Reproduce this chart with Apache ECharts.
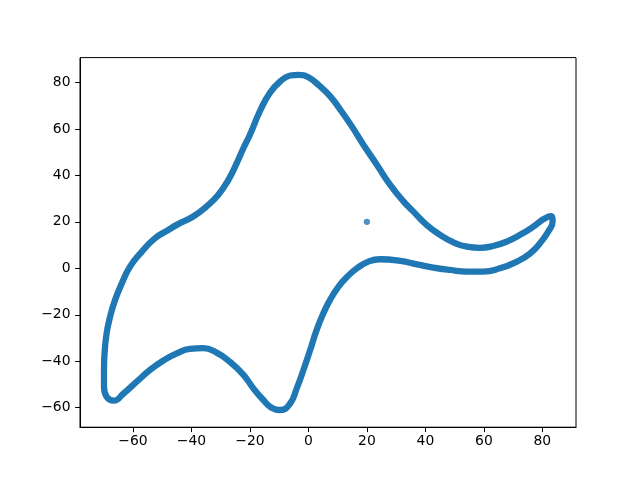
<!DOCTYPE html>
<html>
<head>
<meta charset="utf-8">
<script src="https://cdn.jsdelivr.net/npm/echarts@6/dist/echarts.min.js"></script>
<style>html,body{margin:0;padding:0;background:#fff}#c{width:640px;height:480px}</style>
</head>
<body>
<div id="c"></div>
<script>
// Curve points (data coordinates), in order around the loop
const curveX = [-69.9,-69.9,-69.7,-69.0,-67.8,-66.1,-63.8,-61.0,-57.0,-52.5,-47.9,-45.0,-39.4,-34.8,-30.8,-27.3,-24.5,-22.2,-20.0,-16.6,-13.2,-9.6,-6.2,-3.4,0.0,4.0,7.4,10.9,14.8,18.8,23.4,27.9,32.5,35.9,40.5,45.0,49.6,54.2,58.7,63.2,67.8,72.4,76.9,80.3,82.9,83.5,82.0,79.2,75.8,71.3,65.5,59.8,54.2,48.4,42.7,37.1,31.4,24.5,20.5,16.6,13.2,10.3,7.4,5.1,2.8,0.6,-1.7,-4.0,-6.2,-9.6,-12.6,-15.4,-18.8,-22.2,-26.8,-31.4,-36.0,-40.5,-45.0,-49.7,-54.2,-58.7,-63.3,-66.5,-69.0,-69.9];
const curveY = [-50.9,-43.8,-36.6,-28.0,-20.8,-13.6,-6.5,0.7,7.1,12.9,16.5,18.7,22.3,26.7,31.7,38.2,45.3,51.8,57.5,67.6,75.5,80.5,83.0,83.3,82.2,78.3,74.1,68.3,61.2,53.2,44.6,36.0,28.8,24.4,18.6,14.4,11.2,9.3,8.8,9.6,11.5,14.4,17.9,21.1,22.5,20.0,15.8,10.8,6.4,2.9,0.0,-1.4,-1.4,-0.7,0.3,1.7,3.2,3.9,2.9,0.0,-3.7,-7.9,-13.6,-19.4,-26.6,-35.2,-43.8,-51.7,-58.1,-61.0,-60.0,-56.7,-51.7,-45.9,-40.3,-36.3,-34.4,-34.7,-36.6,-39.8,-43.8,-48.8,-54.0,-57.0,-55.3,-50.9];
// Isolated point
const pointX = [20];
const pointY = [20];
// Tick values
const xTicks = [-60,-40,-20,0,20,40,60,80];
const yTicks = [-60,-40,-20,0,20,40,60,80];

const curveData = curveX.map((x, i) => [x, curveY[i]]);
const pointData = pointX.map((x, i) => [x, pointY[i]]);
const fmt = v => String(v).replace('-', '\u2212');
const FONT = 'DejaVu Sans';

const chart = echarts.init(document.getElementById('c'), null, {renderer: 'canvas'});
chart.setOption({
  animation: false,
  backgroundColor: '#fff',
  grid: {left: 80, right: 64, top: 57.6, bottom: 52.8, show: true, borderColor: '#000', borderWidth: 1, backgroundColor: 'transparent'},
  xAxis: {
    type: 'value', min: -78.1, max: 91.5,
    splitLine: {show: false},
    axisLine: {onZero: false, lineStyle: {color: '#000', width: 1}},
    axisTick: {show: true, length: 4.9, lineStyle: {color: '#000'}, customValues: xTicks},
    axisLabel: {customValues: xTicks, formatter: fmt, color: '#000', fontFamily: FONT, fontSize: 13.9, margin: 7.5}
  },
  yAxis: {
    type: 'value', min: -68.4, max: 90.7,
    splitLine: {show: false},
    axisLine: {onZero: false, lineStyle: {color: '#000', width: 1}},
    axisTick: {show: true, length: 4.9, lineStyle: {color: '#000'}, customValues: yTicks},
    axisLabel: {customValues: yTicks, formatter: fmt, color: '#000', fontFamily: FONT, fontSize: 13.9, margin: 9.5}
  },
  series: [
    {
      type: 'line', data: curveData, smooth: 0.5, showSymbol: false, symbol: 'none',
      lineStyle: {color: '#1f77b4', width: 6.3, cap: 'round', join: 'round'},
      z: 2
    },
    {
      type: 'scatter', data: pointData, symbolSize: 6.3,
      itemStyle: {color: '#1f77b4'}, z: 3
    }
  ]
});
</script>
</body>
</html>
